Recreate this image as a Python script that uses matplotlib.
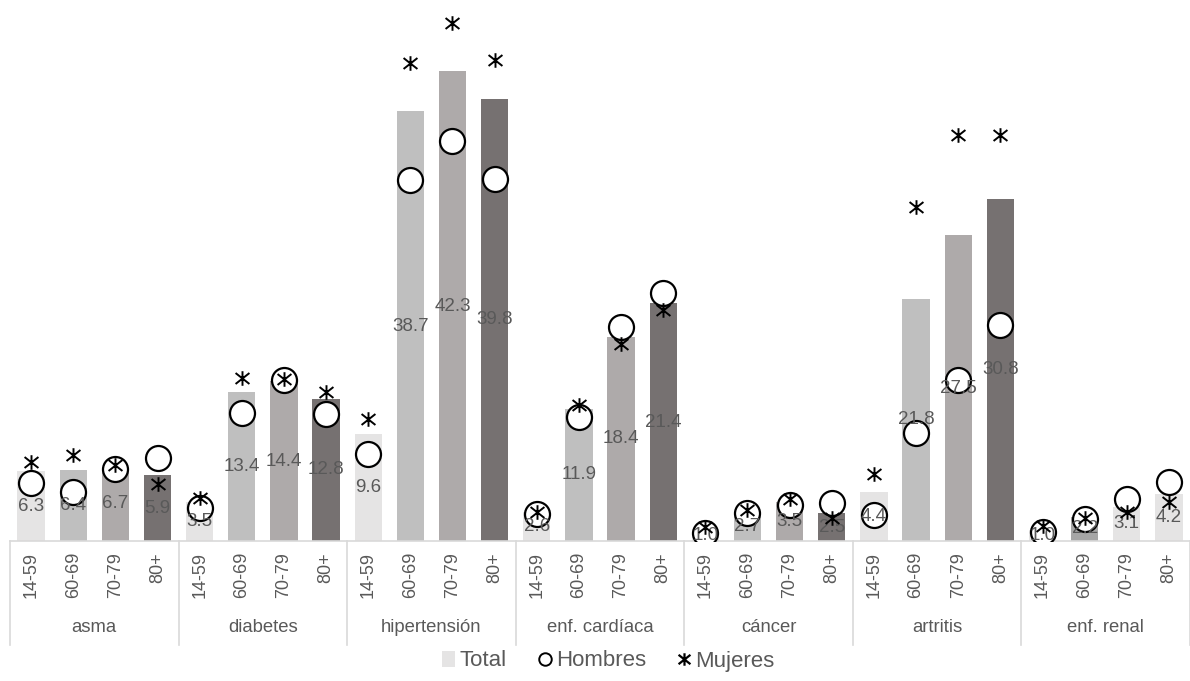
import matplotlib
matplotlib.use("Agg")
import matplotlib.pyplot as plt
from matplotlib.lines import Line2D
from matplotlib.patches import Patch
from matplotlib.path import Path
import matplotlib.transforms as mtransforms

plt.rcParams['font.family'] = ['Liberation Sans', 'DejaVu Sans']

groups = ["asma", "diabetes", "hipertensión", "enf. cardíaca", "cáncer", "artritis", "enf. renal"]
ages = ["14-59", "60-69", "70-79", "80+"]

total = [6.3, 6.4, 6.7, 5.9,
         3.5, 13.4, 14.4, 12.8,
         9.6, 38.7, 42.3, 39.8,
         2.6, 11.9, 18.4, 21.4,
         1.0, 2.7, 3.5, 2.5,
         4.4, 21.8, 27.5, 30.8,
         1.0, 2.2, 3.1, 4.2]

hombres = [5.2, 4.4, 6.5, 7.5,
           3.0, 11.5, 14.5, 11.4,
           7.8, 32.5, 36.0, 32.6,
           2.4, 11.2, 19.3, 22.3,
           0.7, 2.5, 3.2, 3.4,
           2.3, 9.7, 14.5, 19.4,
           0.8, 2.0, 3.8, 5.3]

mujeres = [7.1, 7.7, 6.8, 5.1,
           3.9, 14.7, 14.6, 13.4,
           11.0, 43.0, 46.6, 43.3,
           2.6, 12.2, 17.7, 20.8,
           1.3, 2.8, 3.8, 2.1,
           6.0, 30.1, 36.5, 36.5,
           1.35, 2.1, 2.6, 3.5]

age_colors = ["#e5e4e4", "#bfbfbf", "#aeaaaa", "#767171"]
bar_colors = [age_colors[i % 4] for i in range(len(total))]
# enf. renal uses its own shading
bar_colors[24:28] = ["#e5e4e4", "#a6a6a6", "#e5e4e4", "#e5e4e4"]

label_color = "#595959"
line_color = "#d9d9d9"

# asterisk: a vertical stroke crossed by an X
star = Path(
    [(0, -1), (0, 1), (-0.95, -0.75), (0.95, 0.75), (-0.95, 0.75), (0.95, -0.75)],
    [Path.MOVETO, Path.LINETO, Path.MOVETO, Path.LINETO, Path.MOVETO, Path.LINETO],
)

W, H = 1190, 681
fig = plt.figure(figsize=(W / 100, H / 100), dpi=100)
ax_left, ax_right = 10 / W, 1.0
ax_bottom = (H - 541) / H
ax_top = (H - 7.7) / H
ax = fig.add_axes([ax_left, ax_bottom, ax_right - ax_left, ax_top - ax_bottom])

x = list(range(len(total)))
ax.bar(x, total, width=0.65, color=bar_colors, zorder=2)

for xi, v in zip(x, total):
    ax.text(xi, v / 2, f"{v:.1f}", ha="center", va="center", fontsize=13.5,
            color=label_color, zorder=4)

ax.plot(x, hombres, linestyle="none", marker="o", markersize=18,
        markerfacecolor="white", markeredgecolor="black", markeredgewidth=1.6, zorder=3)
ax.plot(x, mujeres, linestyle="none", marker=star, markersize=10.5,
        markerfacecolor="none", markeredgecolor="black", markeredgewidth=1.4, zorder=5)

ax.set_xlim(-0.5, len(total) - 0.5)
ax.set_ylim(0, 48)
ax.set_yticks([])
for s in ["top", "right", "left"]:
    ax.spines[s].set_visible(False)
ax.spines["bottom"].set_color(line_color)
ax.spines["bottom"].set_linewidth(1.2)

ax.set_xticks(x)
ax.set_xticklabels([ages[i % 4] for i in x], rotation=90, fontsize=13, color=label_color)
ax.tick_params(axis="x", length=0, pad=8)

trans = mtransforms.blended_transform_factory(ax.transData, ax.transAxes)
sep_bottom = -(645 - 541) / (541 - 7.7)
for g in range(len(groups) + 1):
    xb = g * 4 - 0.5
    ax.plot([xb, xb], [0, sep_bottom], transform=trans, color=line_color,
            linewidth=1.2, clip_on=False, zorder=1)

grp_y = -(627 - 541) / (541 - 7.7)
for g, name in enumerate(groups):
    ax.text(g * 4 + 1.5, grp_y, name, transform=trans, ha="center", va="center",
            fontsize=13.3, color=label_color)

handles = [
    Patch(facecolor="#e5e4e4", edgecolor="none", label="Total"),
    Line2D([], [], linestyle="none", marker="o", markersize=9, markerfacecolor="white",
           markeredgecolor="black", markeredgewidth=1.4, label="Hombres"),
    Line2D([], [], linestyle="none", marker=star, markersize=9, markerfacecolor="none",
           markeredgecolor="black", markeredgewidth=1.6, label="Mujeres"),
]
fig.legend(handles=handles, loc="center", bbox_to_anchor=(608 / W, (H - 661) / H), ncol=3,
           frameon=False, fontsize=16, handlelength=0.6, handletextpad=0.2,
           columnspacing=1.4, labelcolor=label_color)

fig.savefig("out.png", dpi=100)
